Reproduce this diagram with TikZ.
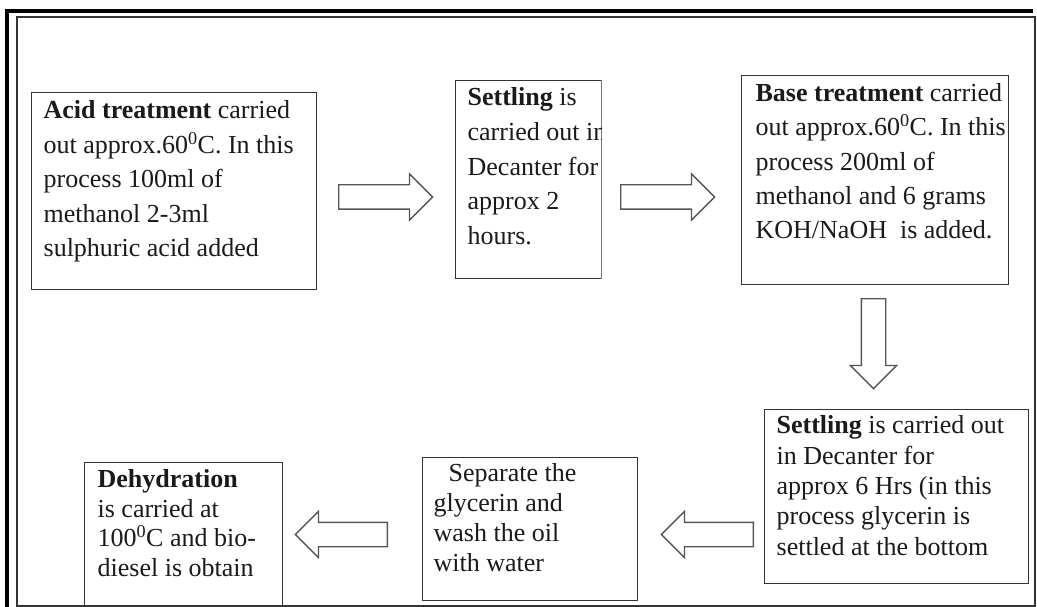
\documentclass[tikz,border=0pt]{standalone}
\usepackage{fontspec}
\setmainfont{Liberation Serif}
\usepackage{tikz}
\usetikzlibrary{shapes.arrows}
\definecolor{flowInk}{HTML}{1A1A1A}
\definecolor{flowLine}{HTML}{333333}
\definecolor{flowArrow}{HTML}{555555}
\newcommand{\steptext}[3]{\parbox[c][#2][t]{#1}{\makebox[#1][l]{\parbox[t]{400pt}{\raggedright #3}}}}

\begin{document}
\begin{tikzpicture}[
  x=1pt, y=-1pt,
  stepbox/.style={draw=flowLine, line width=1.3pt, anchor=north west, inner xsep=12pt, inner ysep=7pt, text=flowInk},
  blockarrow/.style={single arrow, draw=flowArrow, line width=1.4pt, fill=white, inner xsep=0pt, inner ysep=11.5pt,
    single arrow head extend=11pt, single arrow tip angle=90, anchor=tail},
  framethick/.style={line width=4pt, draw=black},
  framethin/.style={line width=1.2pt, draw=flowLine}
]
  \useasboundingbox (0,0) rectangle (1037,607);
  \draw[framethick] (7,607) -- (7,11) -- (1033,11);
  \draw[framethin] (17,17) rectangle (1035,606);

  \node[stepbox, inner ysep=8pt, font=\fontsize{26}{34.5}\selectfont] (acid) at (31,92)
    {\steptext{261pt}{181pt}{\textbf{Acid treatment} carried\\ out approx.60\textsuperscript{0}C. In this\\ process 100ml of\\ methanol 2-3ml\\ sulphuric acid added}};
  \begin{scope}
    \clip (454,79) rectangle (601.7,279);
    \node[stepbox, font=\fontsize{26}{34.7}\selectfont] (settle) at (455,80)
      {\steptext{122pt}{184pt}{\textbf{Settling} is\\ carried out in\\ Decanter for\\ approx 2\\ hours.}};
  \end{scope}
  \node[stepbox, inner xsep=14pt, inner ysep=7.9pt, font=\fontsize{26}{34.3}\selectfont] (base) at (741,75)
    {\steptext{239pt}{193.2pt}{\textbf{Base treatment} carried\\ out approx.60\textsuperscript{0}C. In this\\ process 200ml of\\ methanol and 6 grams\\ KOH/NaOH\ \ is added.}};
  \node[stepbox, inner ysep=6pt, font=\fontsize{26}{30.4}\selectfont] (settleB) at (764,409)
    {\steptext{240pt}{162pt}{\textbf{Settling} is carried out\\ in Decanter for\\ approx 6 Hrs (in this\\ process glycerin is\\ settled at the bottom}};
  \node[stepbox, inner xsep=11pt, inner ysep=6pt, font=\fontsize{26}{30}\selectfont] (separate) at (422,457)
    {\steptext{193pt}{131pt}{\hspace*{15pt}Separate the\\ glycerin and\\ wash the oil\\ with water}};
  \node[stepbox, inner xsep=13pt, font=\fontsize{26}{29.5}\selectfont] (dehyd) at (84,462)
    {\steptext{172pt}{130pt}{\textbf{Dehydration}\\ is carried at\\ 100\textsuperscript{0}C and bio-\\ diesel is obtain}};

  \node[blockarrow, minimum height=94pt] (acidToSettle) at (338,197) {};
  \node[blockarrow, minimum height=94pt] (settleToBase) at (620,197) {};
  \node[blockarrow, minimum height=90pt, rotate=-90] (baseToSettle) at (873.5,298) {};
  \node[blockarrow, minimum height=92pt, rotate=180] (settleToSeparate) at (754,534.5) {};
  \node[blockarrow, minimum height=92pt, rotate=180] (separateToDehyd) at (388,534.5) {};
\end{tikzpicture}
\end{document}
